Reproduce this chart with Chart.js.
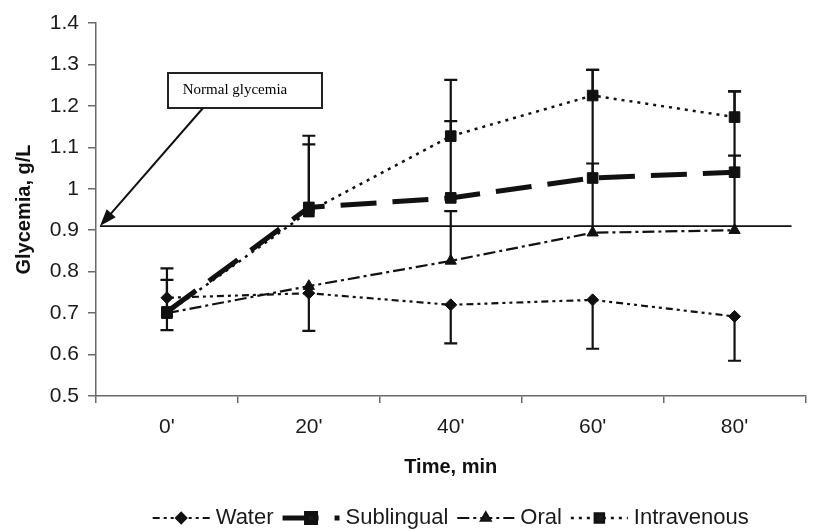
<!DOCTYPE html>
<html>
<head>
<meta charset="utf-8">
<script src="https://cdn.jsdelivr.net/npm/chart.js@4.4.1/dist/chart.umd.min.js"></script>
<style>
  body { margin: 0; background: #fff; }
  #wrap { width: 814px; height: 529px; position: relative; }
</style>
</head>
<body>
<div id="wrap"><canvas id="glycemia"></canvas></div>
<script>
// data
const timeLabels = ["0'", "20'", "40'", "60'", "80'"];
const seriesNames = ['Water', 'Sublingual', 'Oral', 'Intravenous'];

const water = [0.737, 0.748, 0.720, 0.732, 0.692];
const sublingual = [0.703, 0.955, 0.978, 1.026, 1.040];
const oral = [0.700, 0.765, 0.826, 0.894, 0.900];
const intravenous = [0.700, 0.945, 1.127, 1.225, 1.173];

// error bars (upper / lower lengths)
const waterUp = [0.071, 0, 0, 0, 0];
const waterDown = [0.078, 0.091, 0.093, 0.118, 0.107];
const sublingualUp = [0, 0.152, 0.185, 0.261, 0.195];
const sublingualDown = [0, 0, 0, 0, 0];
const oralUp = [0.080, 0, 0.120, 0.167, 0.180];
const oralDown = [0, 0, 0, 0, 0];
const intravenousUp = [0, 0.183, 0.136, 0.062, 0.062];
const intravenousDown = [0, 0, 0, 0, 0];

const normalGlycemia = 0.91;
const yTicks = [0.5, 0.6, 0.7, 0.8, 0.9, 1, 1.1, 1.2, 1.3, 1.4];

const errUp = [waterUp, sublingualUp, oralUp, intravenousUp];
const errDown = [waterDown, sublingualDown, oralDown, intravenousDown];

const ink = '#111';
const axisGray = '#6a6a6a';

// error bars, the normal glycemia line with its label, and the legend
const extrasPlugin = {
    id: 'extras',
    afterDatasetsDraw(chart) {
        const ctx = chart.ctx;
        const x = chart.scales.x, y = chart.scales.y;
        const area = chart.chartArea;
        ctx.save();

        // reference line
        const yn = y.getPixelForValue(normalGlycemia);
        ctx.strokeStyle = ink;
        ctx.lineWidth = 1.8;
        ctx.beginPath();
        ctx.moveTo(area.left + 4, yn);
        ctx.lineTo(area.right - 14, yn);
        ctx.stroke();

        // error bars
        ctx.lineWidth = 2.2;
        chart.data.datasets.forEach((ds, i) => {
            ds.data.forEach((v, j) => {
                const px = x.getPixelForValue(j);
                const py = y.getPixelForValue(v);
                [[errUp[i][j], 1], [errDown[i][j], -1]].forEach(([e, s]) => {
                    if (!e) return;
                    const pe = y.getPixelForValue(v + s * e);
                    ctx.beginPath();
                    ctx.moveTo(px, py);
                    ctx.lineTo(px, pe);
                    ctx.moveTo(px - 6.5, pe);
                    ctx.lineTo(px + 6.5, pe);
                    ctx.stroke();
                });
            });
        });

        // annotation box + arrow
        const bx = 168, by = 73, bw = 154, bh = 35;
        ctx.fillStyle = '#fff';
        ctx.fillRect(bx, by, bw, bh);
        ctx.strokeStyle = '#222';
        ctx.lineWidth = 2;
        ctx.strokeRect(bx, by, bw, bh);
        ctx.fillStyle = '#000';
        ctx.font = '15px "Liberation Serif", "DejaVu Serif", serif';
        ctx.textAlign = 'center';
        ctx.textBaseline = 'middle';
        ctx.fillText('Normal glycemia', 235, by + bh / 2);

        const ax0 = 203, ay0 = by + bh, ax1 = area.left + 4, ay1 = yn;
        const ang = Math.atan2(ay1 - ay0, ax1 - ax0);
        ctx.strokeStyle = ink;
        ctx.lineWidth = 2;
        ctx.beginPath();
        ctx.moveTo(ax0, ay0);
        ctx.lineTo(ax1 - 10 * Math.cos(ang), ay1 - 10 * Math.sin(ang));
        ctx.stroke();
        ctx.fillStyle = ink;
        ctx.beginPath();
        ctx.moveTo(ax1, ay1);
        ctx.lineTo(ax1 - 17 * Math.cos(ang) + 6 * Math.sin(ang), ay1 - 17 * Math.sin(ang) - 6 * Math.cos(ang));
        ctx.lineTo(ax1 - 17 * Math.cos(ang) - 6 * Math.sin(ang), ay1 - 17 * Math.sin(ang) + 6 * Math.cos(ang));
        ctx.closePath();
        ctx.fill();

        // legend
        ctx.font = '22px "Liberation Sans", Arial, sans-serif';
        ctx.textAlign = 'left';
        ctx.textBaseline = 'middle';
        const lineLen = 57, gapText = 6, gapItem = 9;
        const items = chart.data.datasets.map(ds => ({ ds, w: lineLen + gapText + ctx.measureText(ds.label).width }));
        const total = items.reduce((s, it) => s + it.w, 0) + gapItem * (items.length - 1);
        let lx = (area.left + area.right) / 2 - total / 2;
        const ly = 518;
        items.forEach(it => {
            const ds = it.ds;
            ctx.strokeStyle = ink;
            ctx.lineWidth = ds.borderWidth;
            ctx.setLineDash(ds.borderDash);
            ctx.beginPath();
            ctx.moveTo(lx, ly);
            ctx.lineTo(lx + lineLen, ly);
            ctx.stroke();
            ctx.setLineDash([]);
            Chart.helpers.drawPoint(ctx, {
                pointStyle: ds.pointStyle, radius: ds.pointRadius * 0.85, rotation: 0, borderWidth: 1
            }, lx + lineLen / 2, ly);
            ctx.fillStyle = '#1a1a1a';
            ctx.fillText(ds.label, lx + lineLen + gapText, ly);
            lx += it.w + gapItem;
        });
        ctx.restore();
    }
};

function series(label, data, dash, width, style, radius) {
    return {
        label: label,
        data: data,
        borderColor: ink,
        backgroundColor: ink,
        pointBackgroundColor: ink,
        pointBorderColor: ink,
        borderWidth: width,
        borderDash: dash,
        pointStyle: style,
        pointRadius: radius,
        pointBorderWidth: 1,
        tension: 0,
        fill: false
    };
}

const ctx = document.getElementById('glycemia').getContext('2d');
new Chart(ctx, {
    type: 'line',
    data: {
        labels: timeLabels,
        datasets: [
            series(seriesNames[0], water, [7, 4, 3, 4, 3, 4], 2.2, 'rectRot', 6),
            series(seriesNames[1], sublingual, [36, 16], 5, 'rect', 7.5),
            series(seriesNames[2], oral, [12, 4, 3, 4], 2.2, 'triangle', 6.5),
            series(seriesNames[3], intravenous, [3, 5], 2.5, 'rect', 7.5)
        ]
    },
    options: {
        responsive: true,
        maintainAspectRatio: false,
        animation: false,
        layout: { padding: { left: 0, right: 5, top: 23, bottom: 48 } },
        plugins: {
            legend: { display: false },
            tooltip: { enabled: false }
        },
        scales: {
            x: {
                offset: true,
                grid: { display: true, drawOnChartArea: false, offset: true, tickLength: 7, color: axisGray, lineWidth: 1.5 },
                border: { color: axisGray, width: 1.5 },
                ticks: { color: '#1a1a1a', padding: 12, font: { family: '"Liberation Sans", Arial, sans-serif', size: 21 } },
                title: {
                    display: true, text: 'Time, min', color: '#111',
                    font: { family: '"Liberation Sans", Arial, sans-serif', size: 20, weight: 'bold' },
                    padding: { top: 0, bottom: 2 }
                },
                afterFit: s => { s.height = 85; }
            },
            y: {
                min: 0.5,
                max: 1.4,
                afterBuildTicks: s => { s.ticks = yTicks.map(v => ({ value: v })); },
                grid: { display: true, drawOnChartArea: false, tickLength: 8, color: axisGray, lineWidth: 1.5 },
                border: { color: axisGray, width: 1.5 },
                ticks: {
                    color: '#1a1a1a', padding: 9,
                    font: { family: '"Liberation Sans", Arial, sans-serif', size: 21 },
                    callback: v => String(+v.toFixed(1))
                },
                title: {
                    display: true, text: 'Glycemia, g/L', color: '#111',
                    font: { family: '"Liberation Sans", Arial, sans-serif', size: 20, weight: 'bold' },
                    padding: { top: 12, bottom: 0 }
                },
                afterFit: s => { s.width = 96; }
            }
        }
    },
    plugins: [extrasPlugin]
});
</script>
</body>
</html>
